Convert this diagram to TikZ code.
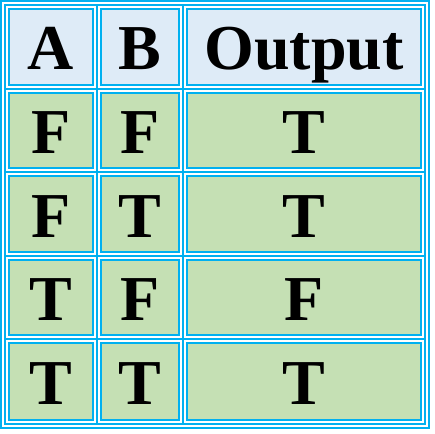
\documentclass[tikz,border=0pt]{standalone}
\usepackage{fontspec}
\setmainfont{Liberation Serif}
\definecolor{rule}{HTML}{00B0F0}
\definecolor{headfill}{HTML}{DEEBF7}
\definecolor{bodyfill}{HTML}{C5E0B4}
\tikzset{
  gridline/.style={draw=rule, line width=2pt},
  cellbase/.style={draw=rule, line width=2pt, inner sep=0pt, outer sep=0pt,
    font=\fontsize{64}{64}\selectfont\bfseries, text height=46pt, text depth=0pt},
  headcell/.style={cellbase, fill=headfill},
  bodycell/.style={cellbase, fill=bodyfill},
}
\begin{document}
\begin{tikzpicture}[x=1pt,y=-1pt]
\useasboundingbox (0,0) rectangle (435,433);
% outer frame and grid
\draw[gridline] (1,1) rectangle (429,428);
\draw[gridline] (5,5) rectangle (425,424);
\draw[gridline] (97,5) -- (97,424);
\draw[gridline] (183,5) -- (183,424);
\draw[gridline] (5,89) -- (425,89);
\draw[gridline] (5,172) -- (425,172);
\draw[gridline] (5,256) -- (425,256);
\draw[gridline] (5,339) -- (425,339);
% header
\node[headcell, minimum width=84pt, minimum height=76pt] (hA) at (51,47) {A};
\node[headcell, minimum width=78pt, minimum height=76pt] (hB) at (140,47) {B};
\node[headcell, minimum width=234pt, minimum height=76pt] (hO) at (304,47) {Output};
% row 1
\node[bodycell, minimum width=84pt, minimum height=75pt] (a1) at (51,130.5) {F};
\node[bodycell, minimum width=78pt, minimum height=75pt] (b1) at (140,130.5) {F};
\node[bodycell, minimum width=234pt, minimum height=75pt] (o1) at (304,130.5) {T};
% row 2
\node[bodycell, minimum width=84pt, minimum height=76pt] (a2) at (51,214) {F};
\node[bodycell, minimum width=78pt, minimum height=76pt] (b2) at (140,214) {T};
\node[bodycell, minimum width=234pt, minimum height=76pt] (o2) at (304,214) {T};
% row 3
\node[bodycell, minimum width=84pt, minimum height=75pt] (a3) at (51,297.5) {T};
\node[bodycell, minimum width=78pt, minimum height=75pt] (b3) at (140,297.5) {F};
\node[bodycell, minimum width=234pt, minimum height=75pt] (o3) at (304,297.5) {F};
% row 4
\node[bodycell, minimum width=84pt, minimum height=77pt] (a4) at (51,381.5) {T};
\node[bodycell, minimum width=78pt, minimum height=77pt] (b4) at (140,381.5) {T};
\node[bodycell, minimum width=234pt, minimum height=77pt] (o4) at (304,381.5) {T};
\end{tikzpicture}
\end{document}
